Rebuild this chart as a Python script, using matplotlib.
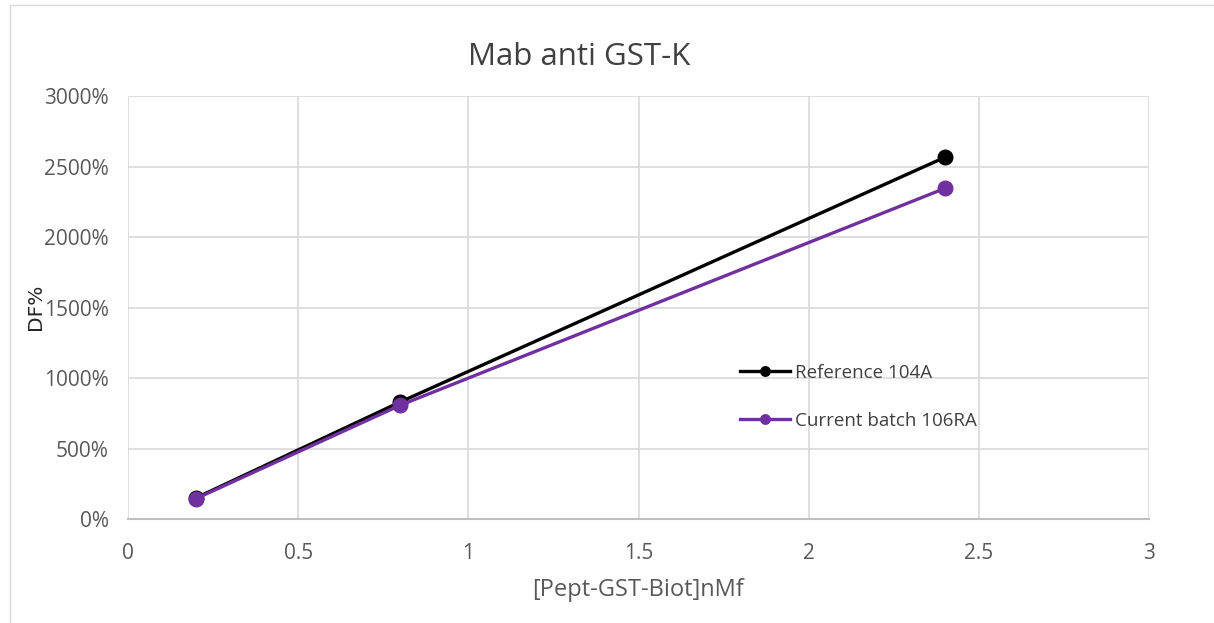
import matplotlib.pyplot as plt
from matplotlib.patches import Rectangle
from matplotlib.ticker import FuncFormatter

# data
conc = [0.2, 0.8, 2.4]
ref_104a = [150, 830, 2565]
batch_106ra = [145, 807, 2345]
series_names = ['Reference 104A', 'Current batch 106RA']

plt.rcParams['font.family'] = ['Open Sans', 'DejaVu Sans']
fig = plt.figure(figsize=(12.14, 6.23), dpi=100)
ax = fig.add_axes([0.1054, 0.1669, 0.8411, 0.679])

# outer border of the chart area
fig.patches.append(Rectangle((0.008, -0.01), 1.0, 1.002, transform=fig.transFigure,
                             fill=False, edgecolor='#D9D9D9', linewidth=1.0))

ax.plot(conc, ref_104a, color='black', lw=2.4, marker='o', ms=10.5, label=series_names[0], zorder=3)
ax.plot(conc, batch_106ra, color='#7030A0', lw=2.4, marker='o', ms=10.5, label=series_names[1], zorder=4)

ax.set_xlim(0, 3)
ax.set_ylim(0, 3000)
ax.set_xticks([0, 0.5, 1, 1.5, 2, 2.5, 3])
ax.set_xticklabels(['0', '0.5', '1', '1.5', '2', '2.5', '3'])
ax.set_yticks(range(0, 3001, 500))
ax.yaxis.set_major_formatter(FuncFormatter(lambda v, p: '%d%%' % v))
ax.grid(True, color='#D9D9D9', lw=1.2)
ax.set_axisbelow(True)
for s in ['top', 'right', 'left']:
    ax.spines[s].set_visible(False)
ax.spines['bottom'].set_color('#BFBFBF')
ax.spines['bottom'].set_linewidth(1.5)
ax.tick_params(length=0, labelsize=15, colors='#595959')
ax.tick_params(axis='x', pad=17)
ax.tick_params(axis='y', pad=14)

fig.text(0.477, 0.9085, 'Mab anti GST-K', fontsize=22.5, color='#404040',
         ha='center', va='center')
fig.text(0.5256, 0.053, '[Pept-GST-Biot]nMf', fontsize=17, color='#595959',
         ha='center', va='center')
fig.text(0.029, 0.507, 'DF%', rotation=90, fontsize=14.5, color='#262626',
         family='DejaVu Sans', ha='center', va='center')

leg = ax.legend(loc='center left', bbox_to_anchor=(0.5994, 0.2896), frameon=False,
                fontsize=13.5, labelspacing=1.6, handlelength=2.65, handletextpad=0.3,
                borderpad=0, borderaxespad=0, markerscale=0.65, labelcolor='#404040')

fig.savefig('out.png', dpi=100)
